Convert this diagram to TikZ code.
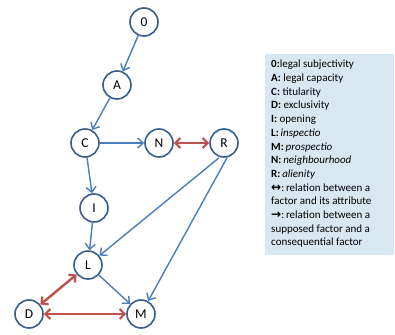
\documentclass[tikz,border=0pt]{standalone}
\usepackage{fontspec}
\setmainfont{Carlito}
\newfontfamily\symfont{DejaVu Sans}
\usetikzlibrary{arrows.meta}
\definecolor{ringblue}{RGB}{56,94,140}
\definecolor{arrowblue}{RGB}{74,126,187}
\definecolor{relred}{RGB}{192,80,77}
\definecolor{legendbg}{RGB}{215,232,242}
\newcommand{\relglyph}[1]{{\symfont\bfseries\fontsize{12}{13.7}\selectfont #1}}
\begin{document}
\begin{tikzpicture}[x=1pt,y=-1pt,
  factor/.style={circle,draw=ringblue,line width=1.6pt,fill=white,
    minimum size=28pt,inner sep=0pt,font=\fontsize{13.5}{15}\selectfont},
  cause/.style={draw=arrowblue,line width=1.4pt,
    -{Straight Barb[length=5.5pt,width=10pt,line width=1.4pt]}},
  attr/.style={draw=relred,line width=2.4pt,
    {Straight Barb[length=5pt,width=10pt,line width=2.2pt]}-{Straight Barb[length=5pt,width=10pt,line width=2.2pt]}}]
\useasboundingbox (0,0) rectangle (395,334);

% legend panel
\fill[legendbg] (265,54) rectangle (394,255);
\node[anchor=north west,inner sep=0pt,align=left,
  font=\fontsize{11}{13.7}\selectfont] (legend) at (271,60) {%
  \textbf{0:}legal subjectivity\\
  \textbf{A:} legal capacity\\
  \textbf{C:} titularity\\
  \textbf{D:} exclusivity\\
  \textbf{I:} opening\\
  \textbf{L:}\,\textit{inspectio}\\
  \textbf{M:}\,\textit{prospectio}\\
  \textbf{N:}\,\textit{neighbourhood}\\
  \textbf{R:}\,\textit{alienity}\\
  \relglyph{↔}:\,relation between a\\
  factor and its attribute\\
  \relglyph{→}:\,relation between a\\
  supposed factor and a\\
  consequential factor};

% factors
\node[factor] (f0) at (144,22) {0};
\node[factor] (A) at (117,85) {A};
\node[factor] (C) at (85,143) {C};
\node[factor] (N) at (159,143) {N};
\node[factor] (R) at (224,143) {R};
\node[factor] (I) at (94,208) {I};
\node[factor] (L) at (88,265) {L};
\node[factor] (D) at (29,314) {D};
\node[factor] (M) at (141,314) {M};

% consequential relations
\draw[cause] (f0) -- (A);
\draw[cause] (A) -- (C);
\draw[cause] (C) -- (N);
\draw[cause] (C) -- (I);
\draw[cause] (I) -- (L);
\draw[cause] ([xshift=-5pt]R.south) -- (L);
\draw[cause] ([xshift=3pt]R.south) -- (M);
\draw[cause] (L) -- (M);

% attribute relations
\draw[attr] (N) -- (R);
\draw[attr] (L) -- (D);
\draw[attr] (D) -- (M);
\end{tikzpicture}
\end{document}
